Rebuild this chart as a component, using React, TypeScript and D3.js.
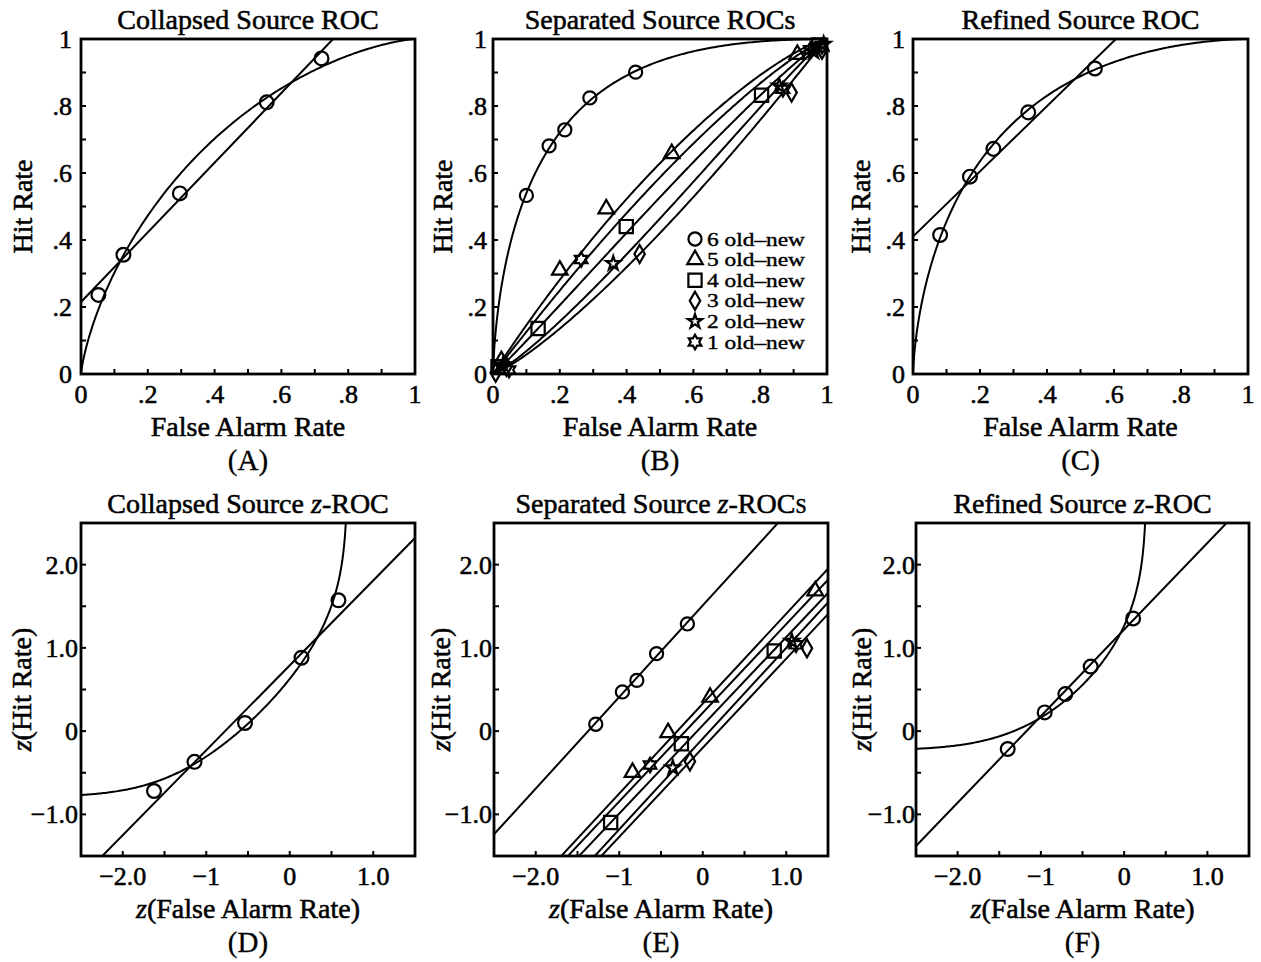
import React, { useRef, useEffect } from 'react';
import * as d3 from 'd3';

// ---- tick labels ----
const rocTicks = [0, 0.2, 0.4, 0.6, 0.8, 1];
const rocTickLabels = ['0', '.2', '.4', '.6', '.8', '1'];
const zxTicks = [-2, -1, 0, 1];
const zxTickLabels = ['−2.0', '−1', '0', '1.0'];
const zyTicks = [-1, 0, 1, 2];
const zyTickLabels = ['−1.0', '0', '1.0', '2.0'];

// ---- collapsed source (A, D) ----
const collapsedFA = [0.052, 0.127, 0.296, 0.556, 0.72];
const collapsedHit = [0.236, 0.356, 0.539, 0.811, 0.942];
const collapsedGauss = { intercept: 0.79, slope: 1.02 };
const collapsedThreshold = { intercept: 0.215, slope: 1.04 };

// ---- refined source (C, F) ----
const refinedFA = [0.081, 0.17, 0.24, 0.344, 0.543];
const refinedHit = [0.415, 0.589, 0.672, 0.781, 0.912];
const refinedGauss = { intercept: 1.22, slope: 1.04 };
const refinedThreshold = { intercept: 0.41, slope: 0.974 };

// ---- separated source (B, E) ----
const conditions = ['6 old–new', '5 old–new', '4 old–new', '3 old–new', '2 old–new', '1 old–new'];
const conditionSymbols = ['circle', 'triangle', 'square', 'diamond', 'star', 'hexagram'];
const separatedFA = [
  [0.1, 0.168, 0.215, 0.29, 0.427],
  [0.025, 0.2, 0.339, 0.535, 0.911],
  [0.015, 0.135, 0.399, 0.804, 0.975],
  [0.008, 0.04, 0.439, 0.894, 0.985],
  [0.03, 0.36, 0.857, 0.96, 0.99],
  [0.048, 0.264, 0.868, 0.95, 0.985],
];
const separatedHit = [
  [0.533, 0.681, 0.729, 0.824, 0.901],
  [0.04, 0.31, 0.493, 0.658, 0.954],
  [0.022, 0.136, 0.44, 0.832, 0.982],
  [0.004, 0.022, 0.358, 0.84, 0.968],
  [0.028, 0.33, 0.86, 0.962, 0.985],
  [0.012, 0.342, 0.85, 0.968, 0.978],
];
const separatedIntercept = [1.51, 0.33, 0.07, -0.2, -0.09, 0.22];
const separatedSlope = [1.1, 1.08, 1.06, 1.07, 1.09, 1.065];

const FONT = '"Liberation Serif", "Times New Roman", Times, serif';

// normal cdf (Abramowitz & Stegun 26.2.17)
function Phi(x) {
  const ax = Math.abs(x);
  const t = 1 / (1 + 0.2316419 * ax);
  const pdf = Math.exp(-ax * ax / 2) / Math.sqrt(2 * Math.PI);
  const c = 1 - pdf * (((((1.330274429 * t - 1.821255978) * t + 1.781477937) * t - 0.356563782) * t + 0.31938153) * t);
  return x >= 0 ? c : 1 - c;
}

// inverse normal cdf (Acklam)
function PhiInv(p) {
  const a = [-39.69683028665376, 220.9460984245205, -275.9285104469687, 138.357751867269, -30.66479806614716, 2.506628277459239];
  const b = [-54.47609879822406, 161.5858368580409, -155.6989798598866, 66.80131188771972, -13.28068155288572];
  const c = [-0.007784894002430293, -0.3223964580411365, -2.400758277161838, -2.549732539343734, 4.374664141464968, 2.938163982698783];
  const d = [0.007784695709041462, 0.3224671290700398, 2.445134137142996, 3.754408661907416];
  const plow = 0.02425;
  if (p <= 0) return -Infinity;
  if (p >= 1) return Infinity;
  if (p < plow) {
    const q = Math.sqrt(-2 * Math.log(p));
    return (((((c[0] * q + c[1]) * q + c[2]) * q + c[3]) * q + c[4]) * q + c[5]) / ((((d[0] * q + d[1]) * q + d[2]) * q + d[3]) * q + 1);
  }
  if (p <= 1 - plow) {
    const q = p - 0.5;
    const r = q * q;
    return (((((a[0] * r + a[1]) * r + a[2]) * r + a[3]) * r + a[4]) * r + a[5]) * q / (((((b[0] * r + b[1]) * r + b[2]) * r + b[3]) * r + b[4]) * r + 1);
  }
  const q = Math.sqrt(-2 * Math.log(1 - p));
  return -(((((c[0] * q + c[1]) * q + c[2]) * q + c[3]) * q + c[4]) * q + c[5]) / ((((d[0] * q + d[1]) * q + d[2]) * q + d[3]) * q + 1);
}

// six-pointed star for "1 old-new"
const symbolHexagram = {
  draw(ctx, size) {
    const r = Math.sqrt(size / 1.6);
    const ri = r / Math.sqrt(3);
    for (let i = 0; i < 12; i++) {
      const rr = i % 2 === 0 ? r : ri;
      const ang = (i * Math.PI) / 6 - Math.PI / 2;
      const x = rr * Math.cos(ang);
      const y = rr * Math.sin(ang);
      if (i === 0) ctx.moveTo(x, y);
      else ctx.lineTo(x, y);
    }
    ctx.closePath();
  },
};

const symbolTypes = {
  circle: d3.symbolCircle,
  triangle: d3.symbolTriangle,
  square: d3.symbolSquare,
  diamond: d3.symbolDiamond,
  star: d3.symbolStar,
  hexagram: symbolHexagram,
};
const symbolSizes = { circle: 135, triangle: 105, square: 175, diamond: 95, star: 62, hexagram: 85 };

const sepSeries = conditions.map((name, i) => ({
  name,
  symbol: conditionSymbols[i],
  fa: separatedFA[i],
  hit: separatedHit[i],
}));
const sepModels = conditions.map((_, i) => ({ type: 'gauss', intercept: separatedIntercept[i], slope: separatedSlope[i] }));

const panels = [
  {
    id: 'A', kind: 'roc', left: 81, right: 415, top: 39, bottom: 374, yLabelGap: 49, yTickGap: 9,
    title: [{ t: 'Collapsed Source ROC' }],
    series: [{ symbol: 'circle', fa: collapsedFA, hit: collapsedHit, size: 150 }],
    models: [{ type: 'gauss', ...collapsedGauss }, { type: 'threshold', ...collapsedThreshold }],
  },
  {
    id: 'B', kind: 'roc', left: 493, right: 827, top: 39, bottom: 374, yLabelGap: 41, yTickGap: 6,
    title: [{ t: 'Separated Source ROCs' }],
    series: sepSeries, models: sepModels, legend: true,
  },
  {
    id: 'C', kind: 'roc', left: 913, right: 1248, top: 39, bottom: 374, yLabelGap: 43, yTickGap: 8,
    title: [{ t: 'Refined Source ROC' }],
    series: [{ symbol: 'circle', fa: refinedFA, hit: refinedHit, size: 150 }],
    models: [{ type: 'gauss', ...refinedGauss }, { type: 'threshold', ...refinedThreshold }],
  },
  {
    id: 'D', kind: 'z', left: 81, right: 415, top: 523, bottom: 856, yLabelGap: 50, yTickGap: 3,
    title: [{ t: 'Collapsed Source ' }, { t: 'z', italic: true }, { t: '-ROC' }],
    series: [{ symbol: 'circle', fa: collapsedFA, hit: collapsedHit, size: 150 }],
    models: [{ type: 'gauss', ...collapsedGauss }, { type: 'threshold', ...collapsedThreshold }],
  },
  {
    id: 'E', kind: 'z', left: 494, right: 828, top: 523, bottom: 856, yLabelGap: 44, yTickGap: 2,
    title: [{ t: 'Separated Source ' }, { t: 'z', italic: true }, { t: '-ROC' }, { t: 's', smallcaps: true }],
    series: sepSeries, models: sepModels,
  },
  {
    id: 'F', kind: 'z', left: 916, right: 1249, top: 523, bottom: 856, yLabelGap: 45, yTickGap: 1,
    title: [{ t: 'Refined Source ' }, { t: 'z', italic: true }, { t: '-ROC' }],
    series: [{ symbol: 'circle', fa: refinedFA, hit: refinedHit, size: 150 }],
    models: [{ type: 'gauss', ...refinedGauss }, { type: 'threshold', ...refinedThreshold }],
  },
];

function drawPanel(svg, p) {
  const isZ = p.kind === 'z';
  const x = d3.scaleLinear().domain(isZ ? [-2.5, 1.5] : [0, 1]).range([p.left, p.right]);
  const y = d3.scaleLinear().domain(isZ ? [-1.5, 2.5] : [0, 1]).range([p.bottom, p.top]);
  const tx = (f) => (isZ ? PhiInv(f) : f);
  const g = svg.append('g').attr('font-family', FONT).attr('fill', '#000');
  const cx = (p.left + p.right) / 2;
  const cy = (p.top + p.bottom) / 2;

  const clipId = `clip-${p.id}`;
  g.append('clipPath').attr('id', clipId)
    .append('rect')
    .attr('x', p.left).attr('y', p.top)
    .attr('width', p.right - p.left).attr('height', p.bottom - p.top);

  // model curves
  const line = d3.line().x(d => x(d[0])).y(d => y(d[1]));
  const curves = g.append('g').attr('clip-path', `url(#${clipId})`);
  const grid = d3.range(-6, 6.0001, 0.02);
  p.models.forEach(m => {
    let pts;
    if (m.type === 'gauss') {
      if (isZ) {
        pts = [[-2.6, m.intercept - 2.6 * m.slope], [1.6, m.intercept + 1.6 * m.slope]];
      } else {
        pts = [[0, 0], ...grid.map(z => [Phi(z), Phi(m.intercept + m.slope * z)]), [1, 1]];
      }
    } else {
      const fTop = (1 - m.intercept) / m.slope;
      if (isZ) {
        pts = grid.map(s => {
          const h = m.intercept + (1 - m.intercept) * Phi(s);
          const f = ((1 - m.intercept) * Phi(s)) / m.slope;
          return [PhiInv(f), PhiInv(h)];
        }).filter(d => isFinite(d[0]) && isFinite(d[1]));
      } else {
        pts = [[0, m.intercept], [fTop, 1], [1, 1]];
      }
    }
    curves.append('path')
      .attr('d', line(pts))
      .attr('fill', 'none')
      .attr('stroke', '#000')
      .attr('stroke-width', 2)
      .attr('stroke-linejoin', 'round');
  });

  // data points
  p.series.forEach(s => {
    const sym = d3.symbol().type(symbolTypes[s.symbol]).size(s.size || symbolSizes[s.symbol]);
    const pts = s.fa.map((f, i) => [tx(f), tx(s.hit[i])])
      .filter(d => d[0] >= x.domain()[0] && d[0] <= x.domain()[1] && d[1] >= y.domain()[0] && d[1] <= y.domain()[1]);
    g.selectAll(null)
      .data(pts)
      .enter()
      .append('path')
      .attr('transform', d => `translate(${x(d[0])},${y(d[1])})`)
      .attr('d', sym)
      .attr('fill', 'none')
      .attr('stroke', '#000')
      .attr('stroke-width', 2.2);
  });

  // frame
  g.append('rect')
    .attr('x', p.left).attr('y', p.top)
    .attr('width', p.right - p.left).attr('height', p.bottom - p.top)
    .attr('fill', 'none').attr('stroke', '#000').attr('stroke-width', 2.8);

  // inward ticks
  const minorX = isZ ? x.ticks(8) : x.ticks(10);
  const minorY = isZ ? y.ticks(8) : y.ticks(10);
  g.selectAll(null).data(minorX.slice(1, -1)).enter().append('line')
    .attr('x1', d => x(d)).attr('x2', d => x(d))
    .attr('y1', p.bottom).attr('y2', p.bottom - 5)
    .attr('stroke', '#000').attr('stroke-width', 2);
  g.selectAll(null).data(minorY.slice(1, -1)).enter().append('line')
    .attr('x1', p.left).attr('x2', p.left + 5)
    .attr('y1', d => y(d)).attr('y2', d => y(d))
    .attr('stroke', '#000').attr('stroke-width', 2);

  const txt = g.append('g').attr('stroke', '#000').attr('stroke-width', 0.55);

  // tick labels
  const xt = isZ ? zxTicks : rocTicks;
  const xl = isZ ? zxTickLabels : rocTickLabels;
  const yt = isZ ? zyTicks : rocTicks;
  const yl = isZ ? zyTickLabels : rocTickLabels;
  txt.selectAll(null).data(xt).enter().append('text')
    .attr('x', d => x(d)).attr('y', p.bottom + 29)
    .attr('text-anchor', 'middle').attr('font-size', 26)
    .text((d, i) => xl[i]);
  txt.selectAll(null).data(yt).enter().append('text')
    .attr('x', p.left - p.yTickGap).attr('y', d => y(d) + 9)
    .attr('text-anchor', 'end').attr('font-size', 26)
    .text((d, i) => yl[i]);

  // title
  const title = txt.append('text')
    .attr('x', cx).attr('y', p.top - 10)
    .attr('text-anchor', 'middle').attr('font-size', 28);
  p.title.forEach(part => {
    const ts = title.append('tspan').text(part.t);
    if (part.italic) ts.attr('font-style', 'italic');
    if (part.smallcaps) ts.attr('font-variant', 'small-caps');
  });

  // axis labels
  const xLab = txt.append('text')
    .attr('x', cx).attr('y', p.bottom + 62)
    .attr('text-anchor', 'middle').attr('font-size', 28);
  if (isZ) xLab.append('tspan').attr('font-style', 'italic').text('z');
  xLab.append('tspan').text(isZ ? '(False Alarm Rate)' : 'False Alarm Rate');

  const yLab = txt.append('text')
    .attr('transform', `translate(${p.left - p.yLabelGap},${cy}) rotate(-90)`)
    .attr('text-anchor', 'middle').attr('font-size', 28);
  if (isZ) yLab.append('tspan').attr('font-style', 'italic').text('z');
  yLab.append('tspan').text(isZ ? '(Hit Rate)' : 'Hit Rate');

  txt.append('text')
    .attr('x', cx).attr('y', p.bottom + 96)
    .attr('text-anchor', 'middle').attr('font-size', 29)
    .attr('stroke-width', 0.3)
    .text(`(${p.id})`);

  // legend
  if (p.legend) {
    const lg = g.append('g').attr('transform', `translate(${p.left + 202},${p.top + 200})`);
    p.series.forEach((s, i) => {
      const row = lg.append('g').attr('transform', `translate(0,${i * 20.6})`);
      row.append('path')
        .attr('d', d3.symbol().type(symbolTypes[s.symbol]).size(symbolSizes[s.symbol])())
        .attr('fill', 'none').attr('stroke', '#000').attr('stroke-width', 2.2);
      row.append('text')
        .attr('x', 12).attr('y', 6.5)
        .attr('font-size', 18.5)
        .attr('textLength', 98)
        .attr('lengthAdjust', 'spacingAndGlyphs')
        .attr('stroke', '#000').attr('stroke-width', 0.4)
        .text(s.name);
    });
  }
}

export default function App() {
  const ref = useRef(null);

  useEffect(() => {
    const svg = d3.select(ref.current);
    svg.selectAll('*').remove();
    panels.forEach(p => drawPanel(svg, p));
  }, []);

  return (
    <svg
      ref={ref}
      width={1261}
      height={962}
      style={{ position: 'absolute', left: 0, top: 0, background: '#fff' }}
    />
  );
}
